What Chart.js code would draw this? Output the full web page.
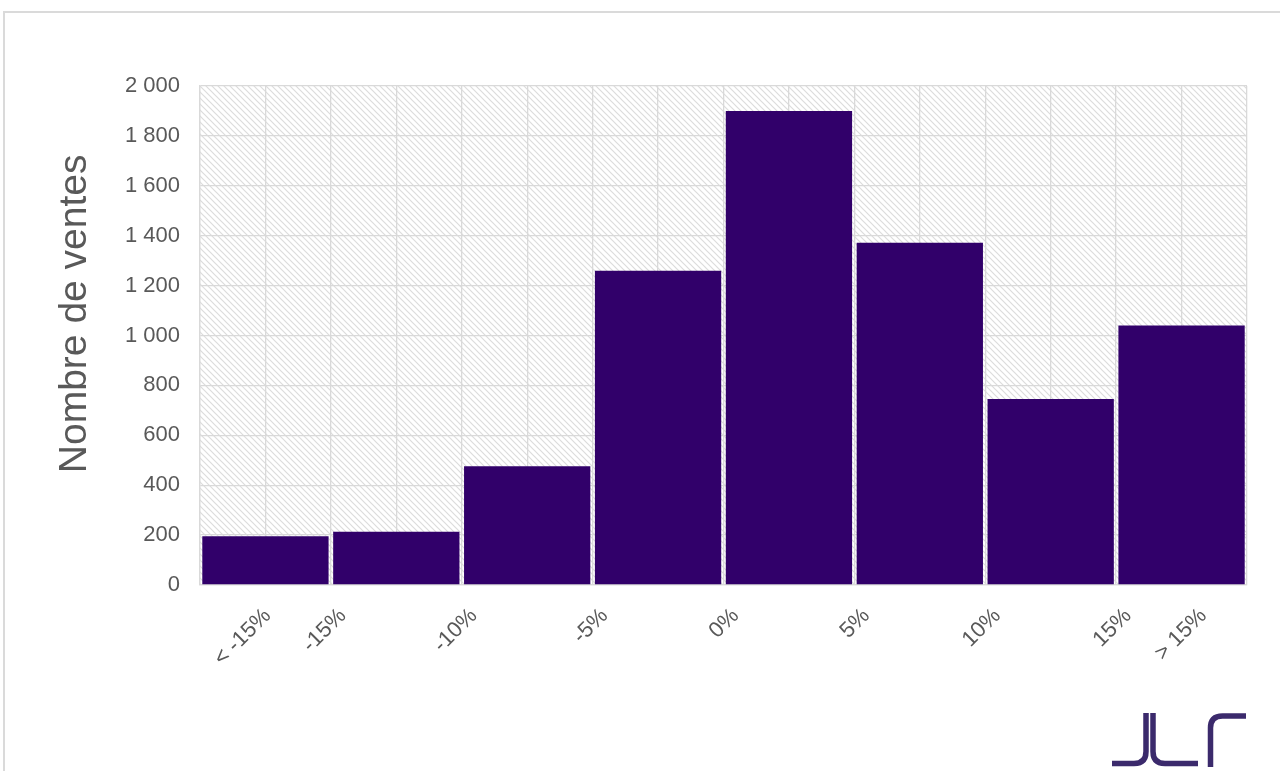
<!DOCTYPE html>
<html lang="fr">
<head>
<meta charset="utf-8">
<title>Nombre de ventes par écart</title>
<script src="https://cdn.jsdelivr.net/npm/chart.js@4/dist/chart.umd.min.js"></script>
<style>
  html, body { margin: 0; padding: 0; background: #fff; overflow: hidden; }
  #wrap { position: relative; width: 1280px; height: 771px; }
  #frame {
    position: absolute; left: 3px; top: 11px; width: 1400px; height: 900px;
    border-left: 2px solid #dadada; border-top: 2px solid #dadada;
  }
  #chart-box { position: absolute; left: 0; top: 0; width: 1280px; height: 771px; }
  #logo { position: absolute; left: 0; top: 0; }
</style>
</head>
<body>
<div id="wrap">
  <div id="frame"></div>
  <div id="chart-box"><canvas id="chart"></canvas></div>
  <svg id="logo" width="1280" height="771" viewBox="0 0 1280 771">
    <g fill="none" stroke="#3b2a6c" stroke-width="5.5">
      <path d="M1112 763.5 H1134 Q1146 763.5 1146 751.5 V713"/>
      <path d="M1153 713 V751.5 Q1153 763.5 1165 763.5 H1198"/>
      <path d="M1210.5 767 V728 Q1210.5 716 1222.5 716 H1246"/>
    </g>
  </svg>
</div>
<script>
  // Bars: one per price-gap bucket
  const BUCKETS = ["< -15%", "-15% / -10%", "-10% / -5%", "-5% / 0%", "0% / 5%", "5% / 10%", "10% / 15%", "> 15%"];
  const SALES = [195, 213, 476, 1260, 1900, 1372, 745, 1040];

  // Axis labels sit on bucket edges (in half-bucket units, 0..16)
  const X_TICK_LABELS = ["< -15%", "-15%", "-10%", "-5%", "0%", "5%", "10%", "15%", "> 15%"];
  const X_TICK_POS = [0.85, 2, 4, 6, 8, 10, 12, 14, 15.15];

  const Y_MAX = 2000;
  const Y_STEP = 200;

  const GREY_TEXT = "#595959";
  const GRID = "#d9d9d9";
  const BAR = "#31006a";
  const FONT = "'Liberation Sans', Arial, sans-serif";

  const fmtFr = (v) => {
    const s = String(Math.round(v));
    return s.length > 3 ? s.slice(0, -3) + " " + s.slice(-3) : s;
  };

  function makeHatch() {
    const s = 6;
    const c = document.createElement("canvas");
    c.width = s; c.height = s;
    const g = c.getContext("2d");
    g.fillStyle = "#ffffff";
    g.fillRect(0, 0, s, s);
    g.strokeStyle = "#dcdcdc";
    g.lineWidth = 1.2;
    g.beginPath();
    g.moveTo(0, 0); g.lineTo(s, s);
    g.moveTo(-1, s - 1); g.lineTo(1, s + 1);
    g.moveTo(s - 1, -1); g.lineTo(s + 1, 1);
    g.stroke();
    return c;
  }

  const hatchBg = {
    id: "hatchBg",
    beforeDraw(chart) {
      const { ctx, chartArea: a } = chart;
      ctx.save();
      ctx.fillStyle = ctx.createPattern(makeHatch(), "repeat");
      ctx.fillRect(a.left, a.top, a.right - a.left, a.bottom - a.top);
      ctx.restore();
    },
  };

  const tickFont = { family: FONT, size: 22 };

  new Chart(document.getElementById("chart"), {
    type: "bar",
    data: {
      labels: BUCKETS,
      datasets: [{
        label: "Nombre de ventes",
        data: SALES.map((v, i) => ({ x: 2 * i + 1, y: v })),
        xAxisID: "xb",
        backgroundColor: BAR,
        borderWidth: 0,
        barPercentage: 1,
        categoryPercentage: 0.965,
      }],
    },
    options: {
      responsive: true,
      maintainAspectRatio: false,
      animation: false,
      layout: { padding: { left: 0, right: 33, top: 86, bottom: 0 } },
      plugins: { legend: { display: false }, tooltip: { enabled: false } },
      scales: {
        // one tick per bucket, only used to size/place the bars
        xb: {
          type: "linear",
          min: 0,
          max: 16,
          offset: false,
          display: false,
          ticks: { stepSize: 2 },
        },
        // grid at every half bucket
        x: {
          type: "linear",
          min: 0,
          max: 16,
          offset: false,
          position: "bottom",
          ticks: { display: false, stepSize: 1 },
          grid: { color: GRID, lineWidth: 1.3, drawTicks: false, offset: false },
          border: { color: GRID, width: 1.3 },
          afterFit: (s) => { s.height = 0; },
        },
        xl: {
          type: "linear",
          min: 0,
          max: 16,
          offset: false,
          position: "bottom",
          grid: { display: false },
          border: { display: false },
          afterBuildTicks: (s) => { s.ticks = X_TICK_POS.map((v) => ({ value: v })); },
          ticks: {
            autoSkip: false,
            minRotation: 45,
            maxRotation: 45,
            padding: 10,
            color: GREY_TEXT,
            font: tickFont,
            labelOffset: 12,
            callback: (v, i) => X_TICK_LABELS[i],
          },
          afterFit: (s) => { s.height = 186; },
        },
        y: {
          min: 0,
          max: Y_MAX,
          ticks: {
            stepSize: Y_STEP,
            padding: 20,
            color: GREY_TEXT,
            font: tickFont,
            callback: (v) => fmtFr(v),
          },
          grid: { color: GRID, lineWidth: 1.3, drawTicks: false },
          border: { color: GRID, width: 1.3 },
          title: {
            display: true,
            text: "    Nombre de ventes",
            color: GREY_TEXT,
            font: { family: FONT, size: 39 },
            padding: { top: 52, bottom: 0 },
          },
          afterFit: (s) => { s.width = 200; },
        },
      },
    },
    plugins: [hatchBg],
  });
</script>
</body>
</html>
